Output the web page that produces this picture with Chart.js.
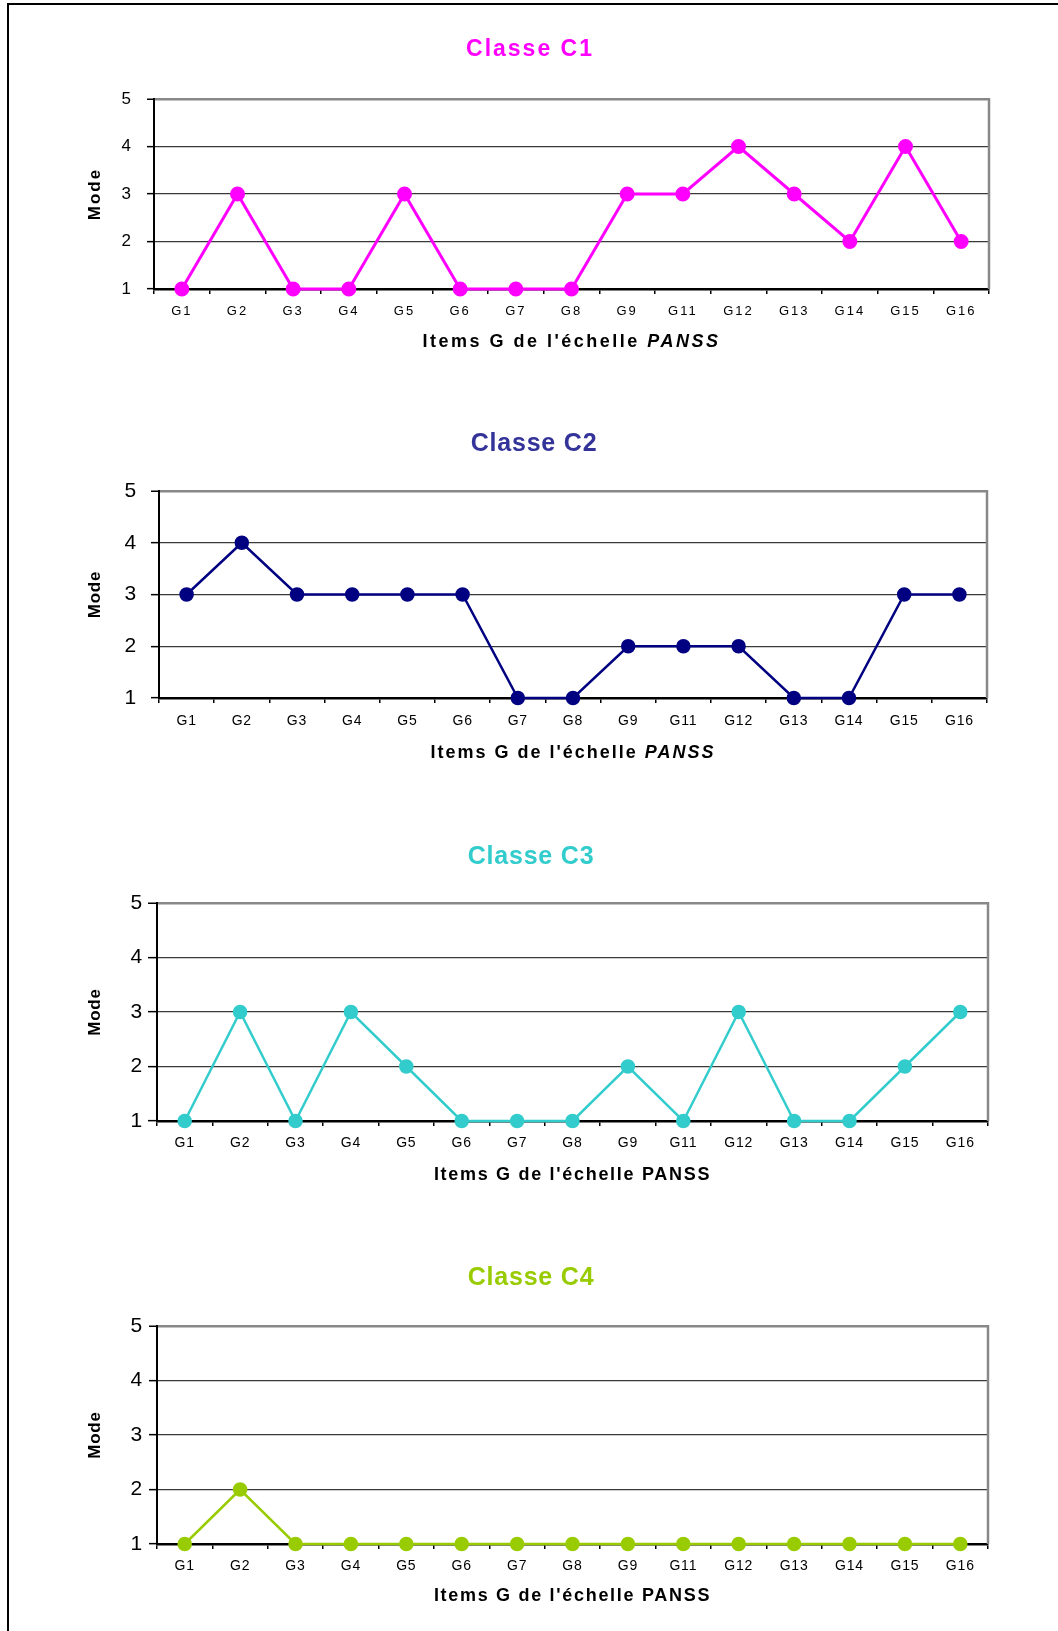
<!DOCTYPE html>
<html>
<head>
<meta charset="utf-8">
<script src="https://cdn.jsdelivr.net/npm/chart.js@4.4.0/dist/chart.umd.min.js"></script>
<style>
  body { margin: 0; background: #fff; }
  #page { position: relative; width: 1058px; height: 1631px; overflow: hidden; background: #fff; }
  #frame { position: absolute; left: 7px; top: 3px; width: 1100px; height: 1700px; border-top: 2px solid #000; border-left: 2px solid #000; }
  .box { position: absolute; left: 0; width: 1058px; }
</style>
</head>
<body>
<div id="page">
  <div id="frame"></div>
  <div class="box" style="top:0px;height:370px"><canvas id="c1"></canvas></div>
  <div class="box" style="top:380px;height:400px"><canvas id="c2"></canvas></div>
  <div class="box" style="top:790px;height:410px"><canvas id="c3"></canvas></div>
  <div class="box" style="top:1210px;height:421px"><canvas id="c4"></canvas></div>
</div>
<script>
const FONT = '"Liberation Sans", Arial, sans-serif';

// data
const categories = ['G1', 'G2', 'G3', 'G4', 'G5', 'G6', 'G7', 'G8', 'G9', 'G11', 'G12', 'G13', 'G14', 'G15', 'G16'];
const modeC1 = [1, 3, 1, 1, 3, 1, 1, 1, 3, 3, 4, 3, 2, 4, 2];
const modeC2 = [3, 4, 3, 3, 3, 3, 1, 1, 2, 2, 2, 1, 1, 3, 3];
const modeC3 = [1, 3, 1, 3, 2, 1, 1, 1, 2, 1, 3, 1, 1, 2, 3];
const modeC4 = [1, 2, 1, 1, 1, 1, 1, 1, 1, 1, 1, 1, 1, 1, 1];
const yTicks = [1, 2, 3, 4, 5];
const titles = ['Classe C1', 'Classe C2', 'Classe C3', 'Classe C4'];
const lineColors = ['#FF00FF', '#000080', '#33CCCC', '#99CC00'];
const titleColors = ['#FF00FF', '#333399', '#33CCCC', '#99CC00'];
const xTitleText = "Items G de l'échelle ";
const xTitleEnd = 'PANSS';

// layout per chart (sizes only)
const looks = [
  { pad: {left: 71, right: 69, top: 0, bottom: 21}, titleFont: 23, titlePad: {top: 35.5, bottom: 35.9},
    yWidth: 83, yTickLen: 7, yTickPad: 14, yFont: 17, modePad: 13.8,
    xFont: 13, xTickPad: 9.2, xGap: 53, xSpacing: 2.5, italic: true, spacing: 2, lineWidth: 3 },
  { pad: {left: 81, right: 71, top: 0, bottom: 22}, titleFont: 25, titlePad: {top: 49.5, bottom: 31.5},
    yWidth: 78, yTickLen: 8, yTickPad: 14, yFont: 21, modePad: 3.8,
    xFont: 14, xTickPad: 10.1, xGap: 55, xSpacing: 2, italic: true, spacing: 0.8, lineWidth: 2.5 },
  { pad: {left: 74, right: 70, top: 0, bottom: 19}, titleFont: 25, titlePad: {top: 52.5, bottom: 30.5},
    yWidth: 83, yTickLen: 9, yTickPad: 5, yFont: 21, modePad: 10.8,
    xFont: 14, xTickPad: 9, xGap: 54, xSpacing: 1.7, italic: false, spacing: 0.8, lineWidth: 2.5 },
  { pad: {left: 74, right: 70, top: 0, bottom: 27}, titleFont: 25, titlePad: {top: 53.5, bottom: 32.5},
    yWidth: 83, yTickLen: 8, yTickPad: 6, yFont: 21, modePad: 10.8,
    xFont: 14, xTickPad: 8.8, xGap: 52.5, xSpacing: 1.7, italic: false, spacing: 0.8, lineWidth: 2.5 }
];

// letter spacing for the whole chart
const spacingPlugin = {
  id: 'spacing',
  beforeDraw(chart, args, opts) {
    chart.ctx.letterSpacing = opts.px + 'px';
  }
};

// grey right edge of the plot
const framePlugin = {
  id: 'frame',
  beforeDatasetsDraw(chart) {
    const ctx = chart.ctx, a = chart.chartArea;
    ctx.save();
    ctx.strokeStyle = '#888';
    ctx.lineWidth = 2.5;
    ctx.beginPath();
    ctx.moveTo(a.right, a.top - 1);
    ctx.lineTo(a.right, a.bottom);
    ctx.stroke();
    ctx.restore();
  }
};

// x axis title, "PANSS" can be italic
const xTitlePlugin = {
  id: 'xTitle',
  afterDraw(chart, args, o) {
    const ctx = chart.ctx, a = chart.chartArea;
    ctx.save();
    ctx.letterSpacing = o.spacing + 'px';
    ctx.fillStyle = '#000';
    ctx.textBaseline = 'middle';
    ctx.textAlign = 'left';
    const f1 = 'bold ' + o.size + 'px ' + FONT;
    const f2 = (o.italic ? 'italic ' : '') + f1;
    ctx.font = f1;
    const w1 = ctx.measureText(o.text).width;
    ctx.font = f2;
    const w2 = ctx.measureText(o.end).width;
    const x = (a.left + a.right) / 2 - (w1 + w2) / 2;
    const y = a.bottom + o.gap;
    ctx.font = f1;
    ctx.fillText(o.text, x, y);
    ctx.font = f2;
    ctx.fillText(o.end, x + w1, y);
    ctx.restore();
  }
};

function makeChart(id, values, k) {
  const L = looks[k];
  return new Chart(document.getElementById(id), {
    type: 'line',
    data: {
      labels: categories,
      datasets: [{
        data: values,
        borderColor: lineColors[k],
        backgroundColor: lineColors[k],
        pointBackgroundColor: lineColors[k],
        pointBorderColor: lineColors[k],
        borderWidth: L.lineWidth,
        pointRadius: 6,
        pointHoverRadius: 6,
        tension: 0,
        clip: false
      }]
    },
    options: {
      responsive: true,
      maintainAspectRatio: false,
      animation: false,
      events: [],
      layout: { padding: L.pad },
      plugins: {
        legend: { display: false },
        tooltip: { enabled: false },
        spacing: { px: L.spacing },
        title: {
          display: true,
          text: titles[k],
          color: titleColors[k],
          font: { family: FONT, size: L.titleFont, weight: 'bold' },
          padding: L.titlePad
        },
        xTitle: { text: xTitleText, end: xTitleEnd, italic: L.italic, size: 18, spacing: L.xSpacing, gap: L.xGap }
      },
      scales: {
        x: {
          offset: true,
          grid: { offset: true, drawOnChartArea: false, drawTicks: true, tickLength: 5, color: '#000', lineWidth: 1.5 },
          border: { color: '#000', width: 2.5 },
          ticks: { color: '#000', font: { family: FONT, size: L.xFont }, padding: L.xTickPad, maxRotation: 0, autoSkip: false },
          afterFit: s => { s.height = 60; }
        },
        y: {
          min: 1,
          max: 5,
          afterBuildTicks: s => { s.ticks = yTicks.map(v => ({ value: v })); },
          grid: {
            color: c => (c.tick && c.tick.value === 5) ? '#888' : (c.tick && c.tick.value === 1 ? '#000' : '#3a3a3a'),
            lineWidth: c => (c.tick && c.tick.value === 5) ? 2.5 : 1.3,
            tickLength: L.yTickLen,
            tickColor: '#000',
            tickWidth: 1.5
          },
          border: { color: '#000', width: 2 },
          ticks: { color: '#000', font: { family: FONT, size: L.yFont }, padding: L.yTickPad },
          title: {
            display: true,
            text: 'Mode',
            color: '#000',
            font: { family: FONT, size: 17, weight: 'bold' },
            padding: { top: L.modePad, bottom: 0 }
          },
          afterFit: s => { s.width = L.yWidth; }
        }
      }
    },
    plugins: [spacingPlugin, framePlugin, xTitlePlugin]
  });
}

makeChart('c1', modeC1, 0);
makeChart('c2', modeC2, 1);
makeChart('c3', modeC3, 2);
makeChart('c4', modeC4, 3);
</script>
</body>
</html>
